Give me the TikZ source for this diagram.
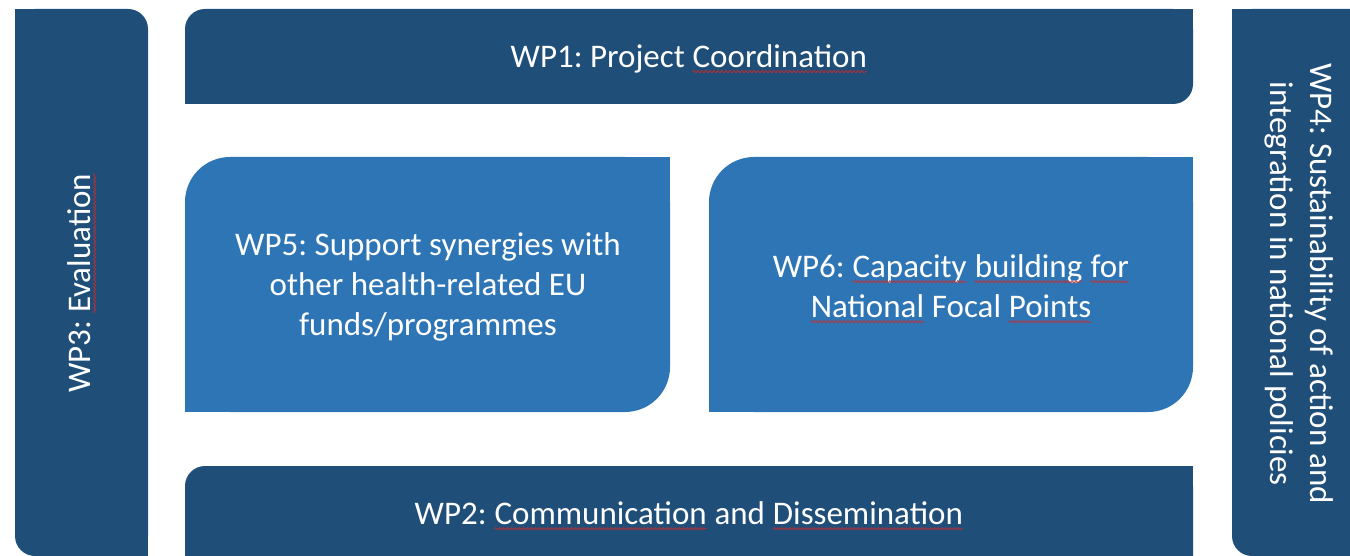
\documentclass[tikz,border=0pt]{standalone}
\usepackage{fontspec}
\setmainfont{Carlito}
\usetikzlibrary{decorations.pathmorphing}
\definecolor{dk}{HTML}{1F4E79}
\definecolor{lt}{HTML}{2E75B6}
\definecolor{sq}{HTML}{D02828}
\newcommand\rw[1]{\tikz[baseline=(rwword.base),x=1pt,y=1pt]{%
  \node[inner sep=0pt,outer sep=0pt,text=white] (rwword) {#1};%
  \draw[sq,line width=0.7pt,decorate,decoration={snake,amplitude=1.1pt,segment length=4pt}]
    ([yshift=-4pt]rwword.base west) -- ([yshift=-4pt]rwword.base east);}}
\frenchspacing
\begin{document}
\frenchspacing
\begin{tikzpicture}[x=1pt,y=-1pt,
  wp/.style={text=white,font=\frenchspacing\fontsize{33}{40}\selectfont,align=center,inner sep=0pt}]
\useasboundingbox (0,0) rectangle (1350,556);
\begin{scope}
\clip (0,0) rectangle (1350,556);
% WP3 (left column)
\fill[dk,rounded corners=20pt] (15,9) rectangle (148,556);
\fill[dk] (15,9) rectangle (45,40);
\fill[dk] (118,526) rectangle (148,556);
% WP4 (right column)
\fill[dk,rounded corners=20pt] (1232,9) rectangle (1372,556);
\fill[dk] (1232,9) rectangle (1262,40);
% WP1 (top bar)
\fill[dk,rounded corners=20pt] (185,9) rectangle (1193,104);
\fill[dk] (1160,9) rectangle (1193,40);
\fill[dk] (185,74) rectangle (215,104);
% WP2 (bottom bar)
\fill[dk,rounded corners=20pt] (185,466) rectangle (1193,576);
\fill[dk] (1160,466) rectangle (1193,500);
\fill[dk] (185,530) rectangle (215,576);
% WP5
\fill[lt,rounded corners=45pt] (185,157) rectangle (670,412);
\fill[lt] (600,157) rectangle (670,220);
\fill[lt] (185,350) rectangle (250,412);
% WP6
\fill[lt,rounded corners=45pt] (709,157) rectangle (1193,412);
\fill[lt] (1120,157) rectangle (1193,220);
\fill[lt] (709,350) rectangle (780,412);
\end{scope}
\node[wp] (wp1) at (689,59) {WP1: Project \rw{Coordination}};
\node[wp] (wp2) at (689,516) {WP2: \rw{Communication} and \rw{Dissemination}};
\node[wp,rotate=90] (wp3) at (82,283) {WP3: \rw{Evaluation}};
\node[wp,rotate=-90] (wp4) at (1299,284) {WP4: Sustainability of action and\\integration in national policies};
\node[wp] (wp5) at (428,287) {WP5: Support synergies with\\other health-related EU\\funds/programmes};
\node[wp] (wp6) at (951,289) {WP6: \rw{Capacity} \rw{building} \rw{for}\\\rw{National} Focal \rw{Points}};
\end{tikzpicture}
\end{document}
